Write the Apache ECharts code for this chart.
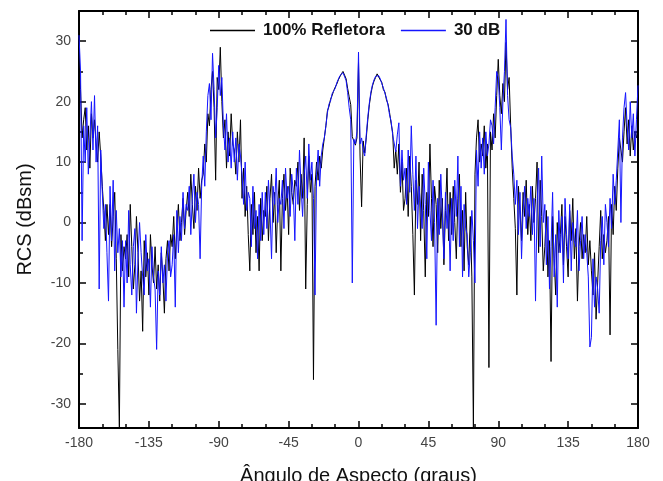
<!DOCTYPE html>
<html>
<head>
<meta charset="utf-8">
<script src="https://cdn.jsdelivr.net/npm/echarts@6/dist/echarts.min.js"></script>
<style>
  html, body { margin: 0; padding: 0; background: #fff; }
  #chart { width: 663px; height: 481px; }
</style>
</head>
<body>
<div id="chart"></div>
<script>
// ângulo inicial e passo (graus) das medidas
const anguloInicial = -180
const passo = 1

// RCS medida, 100% refletora (dBsm), de -180 a 180 graus
const refletora = [
  27, 22, 14, 17, 19, 12, 16, 9, 18, 14,
  17, 13, 10, 15, 11, 6, 2, -3, 3, -2,
  3, -4, 1, 5, -6, -21, -34, -2, -8, -4,
  -6, -2, -9, 3, -4, -11, -7, 1, -5, -13,
  -8, -18, -3, -9, -5, -12, -2, -7, -10, -4,
  -11, -7, -13, -5, -9, -15, -6, -3, -8, -2,
  -4, 1, -6, -1, 3, -3, 0, 4, -2, 2,
  5, 1, 8, 3, -1, 6, 2, 9, 4, 7,
  8, 13, 10, 18, 16, 22, 25, 19, 7, 24,
  22, 29, 20, 14, 17, 9, 15, 11, 18, 13,
  12, 8, 15, 10, 17, 4, 9, 1, 6, -2,
  -8, 3, -2, 5, -5, 1, -8, 4, -3, 2,
  1, 6, -3, 4, 8, 0, 5, -5, 3, 7,
  -8, 4, 8, 2, 6, -2, 9, 5, 3, 7,
  6, 10, 2, 8, 4, 14, -11, 3, 11, 5,
  8, -26, 6, 10, 7, 11, 9, 12, 14, 16,
  18.5, 19.2, 20.4, 21, 21.8, 22.4, 22.9, 23.6, 24.1, 24.6,
  25, 24.7, 23.8, 22.2, 20.8, 19.5, 14.2, 13.5, 12.8, 14,
  26.5, 11, 2.6, 13.5, 11.5, 14, 17, 19.5, 21.3, 22.6,
  23.4, 24, 24.6, 24.4, 23.6, 23.2, 22, 21.6, 20.3, 19.6,
  18.2, 16.4, 14.9, 9, 12, 8, 13, 5, 10, 2,
  4, 9, 1, 11, 6, -2, -12, 7, 3, 10,
  -3, 8, 2, -9, 5, 1, 13, 4, -4, 6,
  3, -5, 7, -1, 4, -7, 2, 9, -3, 5,
  -2, 6, 0, -6, 4, 8, -4, 2, -8, 5,
  -4, -7, 1, -9, -34, 8, 14, 17, 10, 13,
  11, 16, 9, 13, -24, 15, 12, 18, 14, 21,
  27, 21, 18, 23, 20, 29.8, 22, 24, 16, 9,
  4, -1, -12, 6, 2, -3, 5, 1, 7, -2,
  3, -3, 6, 0, 4, 10, -5, 7, 1, -8,
  -4, 2, -9, -3, -23, 1, -6, -12, 0, -5,
  -2, 3, -7, 1, -4, -9, 2, -3, 4, -6,
  -1, -13, -4, 0, -6, -2, -5, 1, -7, -3,
  -8, -12, -5, -16, -10, -4, 2, -6, -2, -5,
  -3, 1, -18.6, 3, -2, 6, 2, 9, 14, 12,
  10, 15, 19, 13, 17, 11, 16, 12, 15, 14, 16
]

// RCS medida com atenuação de 30 dB (dBsm)
const atenuado30 = [
  31, 25, -3, 16, 10, 19, 8, 14, 20, 12,
  21, 10, 16, -11, 12, 5, -1, 3, -5, -13,
  6, -3, 7, -8, 2, -5, -1, -9, -3, -14,
  -3, -10, 2, -7, -12, -4, -1, -15, -6, 0,
  -5, -9, -12, -2, -8, -6, -14, -4, -9, -11,
  -21, -8, -12, -4, -10, -7, -13, -5, -3, -9,
  -7, -2, -14, 2, -5, 1, -3, 5, -1, 3,
  2, 6, -2, 4, 8, 0, 5, 3, -6, 6,
  11, 6, 15, 21, 23, 17, 28, 22, 14, 19,
  26, 21, 24, 16, 12, 18, 10, 14, 9, 15,
  10, 14, 7, 13, 11, 8, 3, 10, 2, 5,
  4, -4, 6, -1, 2, -6, 3, -3, 5, -2,
  5, -1, 7, 2, -6, 6, 3, 9, 0, 4,
  3, 7, -1, 9, 4, 6, 1, 8, 5, -3,
  9, 3, 12, 6, 1, 8, 11, 4, 13, 7,
  10, 4, -12, 8, 12, 6, 11, 13, 14, 16,
  18.2, 19.6, 20.1, 21.3, 21.6, 22.2, 23.1, 23.4, 24.3, 24.4,
  24.8, 24.5, 23.5, 21.5, 19, 17, -10, 13.8, 13, 15,
  28.2, 13, 14, 12, 11, 14.5, 17.5, 19.8, 21.6, 22.8,
  23.6, 24.2, 24.5, 24.3, 23.8, 23, 22.3, 21.4, 20.6, 19.4,
  17.8, 16.8, 14.5, 14.2, 11.7, 14.5, 16.5, 6, 12, 7,
  9, 3, 12, 5, 16, 8, 2, 11, -1, 6,
  6, -1, 9, 3, -6, 10, 2, -3, 7, 0,
  -17, 4, -2, 8, 1, -6, 5, -1, 3, -8,
  4, -3, 7, 1, 11, -4, 6, -9, 3, -1,
  -2, -9, -5, 2, -3, -10, 12, 6, 15, 9,
  14, 8, 15, 11, 13, 17, 16, 13, 19, 25,
  24, 19, 12, 20, 25, 33.6, 21, 17, 15.7, 11,
  8, 3, 7, -2, 5, -6, 2, 6, -1, 4,
  1, 6, -2, 4, -13, 3, 9, -4, 11, 0,
  3, -7, 1, -11, -4, 5, -9, -2, -14, 2,
  -5, 1, -10, 4, -2, -6, 3, -8, 0, -3,
  -4, 2, -8, -3, 1, -6, -2, -5, -9, -20.6,
  -19, -6, -14, -9, -11, -15, -3, 1, -7, 3,
  0, -4, 4, -1, 8, 3, 7, 12, 17, 0,
  14, 19, 21.5, 16, 12, 20, 14, 18, 11, 17, 22.7
]

// marcas dos eixos
const ticksY = [-30, -20, -10, 0, 10, 20, 30]
const ticksYMenores = [-25, -15, -5, 5, 15, 25]

const fonte = "'Liberation Sans', Arial, sans-serif"

const pares = (serie) => serie.map((v, i) => [anguloInicial + i * passo, v])

const eixoX = (posicao, mostraTexto) => ({
  type: 'value',
  position: posicao,
  min: -180,
  max: 180,
  interval: 45,
  axisLine: { show: true, onZero: false, lineStyle: { color: '#000', width: 2 } },
  axisTick: { show: true, inside: true, length: 7, lineStyle: { color: '#000', width: 1.5 } },
  minorTick: { show: true, splitNumber: 3, length: 4, lineStyle: { color: '#000', width: 1.5 } },
  splitLine: { show: false },
  axisLabel: {
    show: mostraTexto,
    margin: 8,
    color: '#444',
    fontSize: 14,
    fontFamily: fonte,
  },
})

const eixoY = (posicao, valores, comprimento, mostraLinha, mostraTexto) => ({
  type: 'value',
  position: posicao,
  min: -34,
  max: 35,
  axisLine: { show: mostraLinha, onZero: false, lineStyle: { color: '#000', width: 2 } },
  axisTick: {
    show: true,
    inside: true,
    length: comprimento,
    customValues: valores,
    lineStyle: { color: '#000', width: 1.5 },
  },
  splitLine: { show: false },
  axisLabel: {
    show: mostraTexto,
    customValues: valores,
    margin: 8,
    color: '#444',
    fontSize: 14,
    fontFamily: fonte,
  },
})

const chart = echarts.init(document.getElementById('chart'))

chart.setOption({
  animation: false,
  backgroundColor: '#fff',
  grid: { left: 79, right: 25, top: 11, bottom: 53, containLabel: false, outerBoundsMode: 'none' },
  legend: {
    top: 17,
    left: 205,
    icon: 'rect',
    itemWidth: 45,
    itemHeight: 1.5,
    itemGap: 16,
    textStyle: {
      fontFamily: fonte,
      fontSize: 17,
      fontWeight: 'bold',
      color: '#111',
      padding: [0, 0, 0, 3],
    },
    data: ['100% Refletora', '30 dB'],
  },
  xAxis: [
    Object.assign(eixoX('bottom', true), {
      name: 'Ângulo de Aspecto (graus)',
      nameLocation: 'middle',
      nameGap: 38,
      nameTextStyle: { fontFamily: fonte, fontSize: 20, color: '#111' },
    }),
    eixoX('top', false),
  ],
  yAxis: [
    Object.assign(eixoY('left', ticksY, 7, true, true), {
      name: 'RCS (dBsm)',
      nameLocation: 'middle',
      nameGap: 44,
      nameTextStyle: { fontFamily: fonte, fontSize: 20, color: '#111' },
    }),
    eixoY('left', ticksYMenores, 4, false, false),
    eixoY('right', ticksY, 7, true, false),
    eixoY('right', ticksYMenores, 4, false, false),
  ],
  series: [
    {
      name: '100% Refletora',
      type: 'line',
      symbol: 'none',
      data: pares(refletora),
      lineStyle: { color: '#000', width: 1 },
      itemStyle: { color: '#000' },
    },
    {
      name: '30 dB',
      type: 'line',
      symbol: 'none',
      data: pares(atenuado30),
      lineStyle: { color: '#1414ff', width: 1 },
      itemStyle: { color: '#1414ff' },
    },
  ],
})
</script>
</body>
</html>
